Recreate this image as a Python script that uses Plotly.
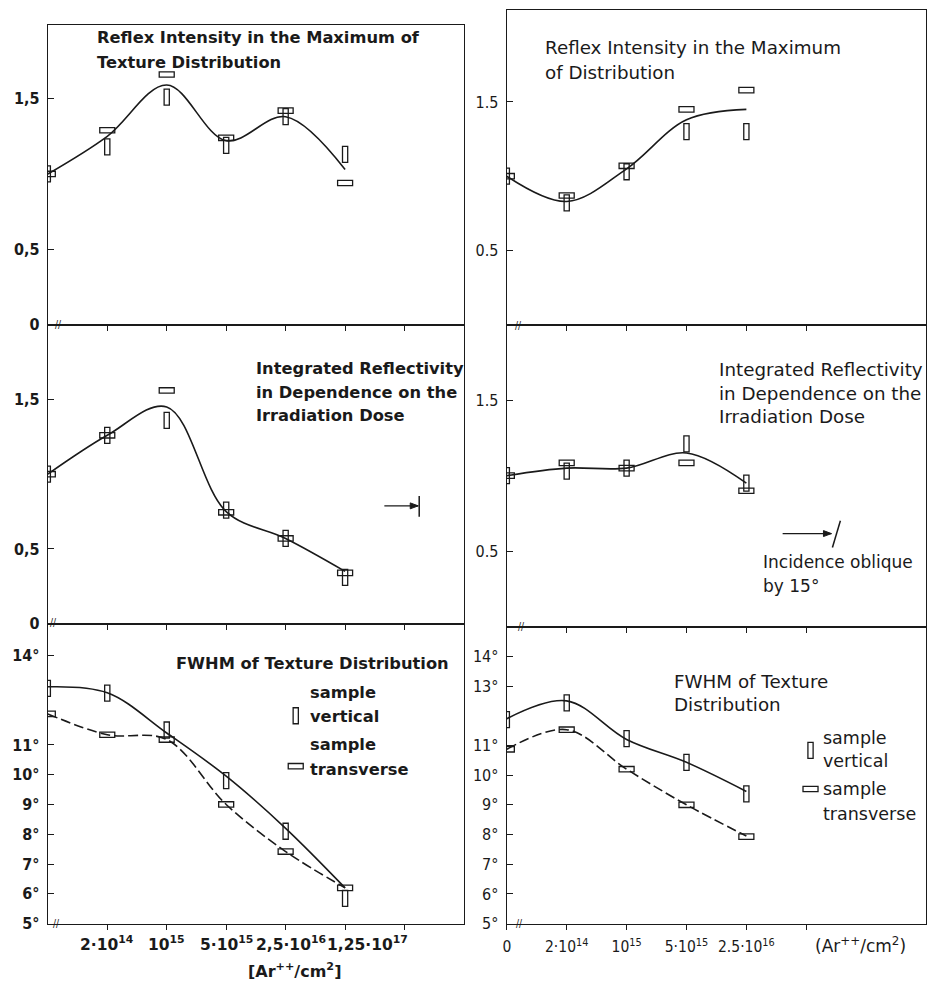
import plotly.graph_objects as go

W, H = 930, 994   # canvas; reference pixel coordinates are mapped top-aligned

# ---------------- data ----------------
left_ticks = ["2·10<sup>14</sup>", "10<sup>15</sup>", "5·10<sup>15</sup>",
              "2,5·10<sup>16</sup>", "1,25·10<sup>17</sup>", ""]
right_ticks = ["0", "2·10<sup>14</sup>", "10<sup>15</sup>", "5·10<sup>15</sup>",
               "2.5·10<sup>16</sup>", ""]

# left column (normal incidence), doses 0 .. 1.25e17 (index positions)
L1_vertical = [1.00, 1.18, 1.51, 1.19, 1.38, 1.13]
L1_transverse = [1.00, 1.29, 1.66, 1.24, 1.42, 0.94]
L1_curve = [1.00, 1.25, 1.59, 1.22, 1.38, 1.03]

L2_vertical = [1.00, 1.26, 1.36, 0.76, 0.57, 0.31]
L2_transverse = [1.00, 1.26, 1.56, 0.745, 0.57, 0.34]
L2_curve = [1.00, 1.26, 1.45, 0.75, 0.57, 0.35]

L3_vertical = [12.9, 12.74, 11.5, 9.8, 8.1, 5.85]
L3_transverse = [12.04, 11.34, 11.18, 9.0, 7.42, 6.2]
L3_vert_curve = [12.95, 12.75, 11.4, 9.95, 8.2, 6.2]
L3_trans_curve = [12.04, 11.34, 11.18, 9.0, 7.42, 6.2]

# right column (oblique incidence), doses 0 .. 2.5e16
R1_vertical = [1.00, 0.82, 1.03, 1.30, 1.30]
R1_transverse = [1.00, 0.87, 1.07, 1.45, 1.58]
R1_curve = [1.00, 0.83, 1.05, 1.38, 1.45]

R2_vertical = [1.00, 1.03, 1.05, 1.21, 0.95]
R2_transverse = [1.00, 1.085, 1.05, 1.085, 0.90]
R2_curve = [1.00, 1.05, 1.05, 1.15, 0.95]

R3_vertical = [11.87, 12.43, 11.23, 10.43, 9.37]
R3_transverse = [10.87, 11.53, 10.2, 9.0, 7.93]
R3_vert_curve = [11.9, 12.5, 11.2, 10.43, 9.45]
R3_trans_curve = [10.87, 11.53, 10.2, 9.0, 7.95]

deg_left = [5, 6, 7, 8, 9, 10, 11, 14]
deg_right = [5, 6, 7, 8, 9, 10, 11, 13, 14]

# ---------------- layout helpers ----------------
INK = "#1a1a1a"
FONT_R = "DejaVu Sans"
FONT_C = "DejaVu Sans Condensed"


def px(x, y):
    return x / W, 1 - y / H


def dom_x(a, b):
    return [a / W, b / W]


def dom_y(top, bottom):
    return [1 - bottom / H, 1 - top / H]


LX = dom_x(44, 462)
RX = dom_x(505, 926)

panels = {
    1: dict(xd=LX, yd=dom_y(25, 328), yr=[0, 1.99]),
    2: dict(xd=LX, yd=dom_y(328, 630), yr=[0, 2.0]),
    3: dict(xd=LX, yd=dom_y(630, 933), yr=[5, 15.07]),
    4: dict(xd=RX, yd=dom_y(10, 328), yr=[0, 2.12]),
    5: dict(xd=RX, yd=dom_y(328, 633), yr=[0, 2.0]),
    6: dict(xd=RX, yd=dom_y(633, 933), yr=[5, 15.0]),
}

fig = go.Figure()
layout = dict(width=W, height=H, margin=dict(l=0, r=0, t=0, b=0),
              paper_bgcolor="white", plot_bgcolor="white", showlegend=False)

for n, p in panels.items():
    left = n <= 3
    if left:
        tv = list(range(1, len(left_ticks) + 1))
        tt = left_ticks
    else:
        tv = list(range(len(right_ticks)))
        tt = right_ticks
    xa = dict(domain=p["xd"], range=[0, 7], anchor="y%d" % n,
              showline=True, mirror=True, linecolor=INK, linewidth=1.3,
              showgrid=False, zeroline=False, ticks="outside", ticklen=5,
              tickcolor=INK, tickwidth=1.2, tickvals=tv, ticktext=tt, tickangle=0,
              showticklabels=(n == 6), ticklabelstandoff=4,
              tickfont=dict(family=FONT_C, size=15.5, color=INK))
    if n in (1, 2):
        yv, yt = [0, 0.5, 1.5], ["0", "0,5", "1,5"]
    elif n in (4, 5):
        yv, yt = [0.5, 1.5], ["0.5", "1.5"]
    elif n == 3:
        yv, yt = deg_left, ["%d°" % d for d in deg_left]
    else:
        yv, yt = deg_right, ["%d°" % d for d in deg_right]
    ya = dict(domain=p["yd"], range=p["yr"], anchor="x%d" % n,
              showline=True, mirror=True, linecolor=INK, linewidth=1.3,
              showgrid=False, zeroline=False, ticks="inside", ticklen=6,
              tickcolor=INK, tickwidth=1.2, tickvals=yv, ticktext=yt,
              tickfont=dict(family=FONT_C, size=16, color=INK,
                            weight="bold" if left else "normal"),
              ticklabelstandoff=4)
    layout["xaxis" if n == 1 else "xaxis%d" % n] = xa
    layout["yaxis" if n == 1 else "yaxis%d" % n] = ya

fig.update_layout(**layout)

shapes = []
annotations = []


def add_curve(n, values, dash="solid"):
    fig.add_trace(go.Scatter(
        x=list(range(len(values))), y=values, mode="lines",
        line=dict(color=INK, width=1.6, shape="spline", smoothing=1.0, dash=dash),
        xaxis="x%d" % n, yaxis="y%d" % n, hoverinfo="skip"))


def add_marks(n, values, kind):
    # kind 'v' -> tall narrow rectangle (sample vertical); 'h' -> wide flat (transverse)
    hw, hh = (2.6, 8) if kind == "v" else (7.5, 2.7)
    for i, v in enumerate(values):
        shapes.append(dict(
            type="rect", xref="x%d" % n, yref="y%d" % n,
            xsizemode="pixel", ysizemode="pixel", xanchor=i, yanchor=v,
            x0=-hw, x1=hw, y0=-hh, y1=hh,
            line=dict(color=INK, width=1.3), fillcolor="rgba(0,0,0,0)"))


add_curve(1, L1_curve); add_marks(1, L1_vertical, "v"); add_marks(1, L1_transverse, "h")
add_curve(2, L2_curve); add_marks(2, L2_vertical, "v"); add_marks(2, L2_transverse, "h")
add_curve(3, L3_vert_curve); add_curve(3, L3_trans_curve, dash="10px,4px")
add_marks(3, L3_vertical, "v"); add_marks(3, L3_transverse, "h")
add_curve(4, R1_curve); add_marks(4, R1_vertical, "v"); add_marks(4, R1_transverse, "h")
add_curve(5, R2_curve); add_marks(5, R2_vertical, "v"); add_marks(5, R2_transverse, "h")
add_curve(6, R3_vert_curve); add_curve(6, R3_trans_curve, dash="10px,4px")
add_marks(6, R3_vertical, "v"); add_marks(6, R3_transverse, "h")

# bottom-left dose labels (placed on the x3 scale; the crowded last two nudged right)
label_shift = [0, 0, 0, 5, 22, 0]
for i, lab in enumerate(left_ticks):
    if lab:
        annotations.append(dict(
            x=i + 1, xref="x3", y=1 - 953 / H, yref="paper", text=lab,
            showarrow=False, xanchor="center", yanchor="middle", xshift=label_shift[i],
            font=dict(family=FONT_R, size=15.5, color=INK, weight="bold")))


def text(x, y, s, left=True, size=None, anchor="left"):
    xx, yy = px(x, y)
    annotations.append(dict(
        x=xx, y=yy, xref="paper", yref="paper", text=s, showarrow=False,
        xanchor=anchor, yanchor="middle", borderpad=0,
        font=dict(family=FONT_R, size=size or (16.3 if left else 18.3), color=INK,
                  weight="bold" if left else "normal")))


# titles
text(92, 38, "Reflex Intensity in the Maximum of")
text(92, 63, "Texture Distribution")
text(252, 372, "Integrated Reflectivity")
text(252, 396, "in Dependence on the")
text(252, 420, "Irradiation Dose")
text(172, 670, "FWHM of Texture Distribution")
text(306, 700, "sample")
text(306, 724, "vertical")
text(306, 752, "sample")
text(306, 777, "transverse")

text(542, 48, "Reflex Intensity in the Maximum", left=False)
text(542, 73, "of Distribution", left=False)
text(717, 373, "Integrated Reflectivity", left=False)
text(717, 397, "in Dependence on the", left=False)
text(717, 421, "Irradiation Dose", left=False)
text(761, 568, "Incidence oblique", left=False, size=17)
text(761, 592, "by 15°", left=False, size=17)
text(672, 688, "FWHM of Texture", left=False)
text(672, 712, "Distribution", left=False)
text(822, 746, "sample", left=False, size=17.5)
text(822, 769, "vertical", left=False, size=17.5)
text(822, 797, "sample", left=False, size=17.5)
text(822, 822, "transverse", left=False, size=17.5)

# axis units
text(292, 980, "[Ar<sup>++</sup>/cm<sup>2</sup>]", size=16, anchor="center")
text(860, 955, "(Ar<sup>++</sup>/cm<sup>2</sup>)", left=False, size=17, anchor="center")

# legend symbols
for (x, y, kind) in [(293, 723, "v"), (293, 774, "h"), (810, 758, "v"), (810, 797, "h")]:
    hw, hh = (2.6, 8) if kind == "v" else (7.5, 2.7)
    xx, yy = px(x, y)
    shapes.append(dict(type="rect", xref="paper", yref="paper",
                       xsizemode="pixel", ysizemode="pixel", xanchor=xx, yanchor=yy,
                       x0=-hw, x1=hw, y0=-hh, y1=hh,
                       line=dict(color=INK, width=1.3), fillcolor="rgba(0,0,0,0)"))

# axis break marks
for (x, y) in [(55, 328), (50, 629), (53, 933), (517, 329), (520, 633), (518, 933)]:
    xx, yy = px(x, y)
    annotations.append(dict(x=xx, y=yy, xref="paper", yref="paper", text="//",
                            showarrow=False, font=dict(family=FONT_C, size=10, color=INK),
                            xanchor="center", yanchor="middle"))


# incidence arrows (beam line, arrow head, sample surface)
def seg(x0, y0, x1, y1, w=1.3):
    a0, b0 = px(x0, y0)
    a1, b1 = px(x1, y1)
    shapes.append(dict(type="line", xref="paper", yref="paper", x0=a0, y0=b0, x1=a1, y1=b1,
                       line=dict(color=INK, width=w)))


def head(tx, ty):
    pts = [px(tx, ty), px(tx - 8, ty - 3), px(tx - 8, ty + 3)]
    path = "M %f %f L %f %f L %f %f Z" % (pts[0][0], pts[0][1], pts[1][0], pts[1][1],
                                          pts[2][0], pts[2][1])
    shapes.append(dict(type="path", xref="paper", yref="paper", path=path,
                       fillcolor=INK, line=dict(color=INK, width=1)))


seg(382, 511, 416, 511); head(416, 511); seg(417, 501, 417, 522, 1.5)
seg(782, 539, 831, 539); head(831, 539); seg(832, 553, 840, 526, 1.5)

fig.update_layout(shapes=shapes, annotations=annotations)
fig.write_html(
    "out.html",
    config={"displayModeBar": False},
    post_script="document.body.style.margin='0';",
)
